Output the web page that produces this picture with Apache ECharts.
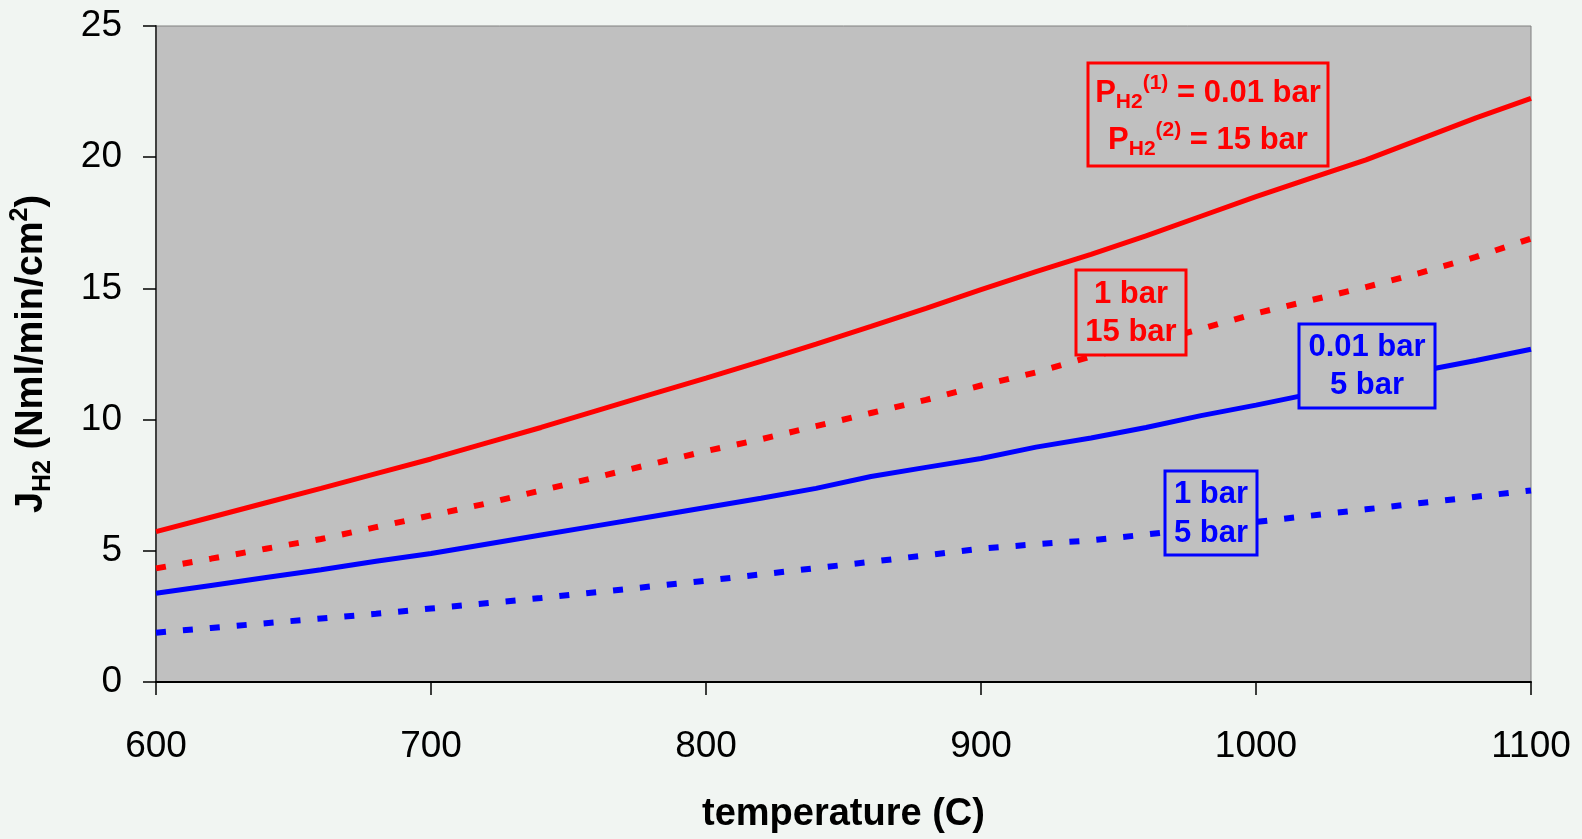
<!DOCTYPE html>
<html>
<head>
<meta charset="utf-8">
<script src="https://cdn.jsdelivr.net/npm/echarts@6/dist/echarts.min.js"></script>
<style>
  html, body { margin: 0; padding: 0; background: #f1f5f2; }
  #chart { width: 1582px; height: 839px; }
</style>
</head>
<body>
<div id="chart"></div>
<script>
// temperature (C), every 20 degrees
var temps = [600, 620, 640, 660, 680, 700, 720, 740, 760, 780, 800, 820, 840, 860, 880, 900, 920, 940, 960, 980, 1000, 1020, 1040, 1060, 1080, 1100];
// J_H2 (Nml/min/cm2)
var redSolid = [5.73, 6.28, 6.83, 7.38, 7.94, 8.50, 9.10, 9.70, 10.33, 10.96, 11.58, 12.22, 12.88, 13.55, 14.24, 14.95, 15.64, 16.30, 17.00, 17.75, 18.50, 19.20, 19.90, 20.70, 21.50, 22.24];
var redDotted = [4.33, 4.70, 5.08, 5.45, 5.90, 6.35, 6.80, 7.30, 7.80, 8.30, 8.80, 9.25, 9.75, 10.25, 10.75, 11.30, 11.80, 12.40, 12.90, 13.45, 14.05, 14.55, 15.05, 15.60, 16.20, 16.90];
var blueSolid = [3.38, 3.68, 3.98, 4.28, 4.60, 4.90, 5.25, 5.60, 5.95, 6.30, 6.65, 7.00, 7.38, 7.83, 8.18, 8.52, 8.95, 9.30, 9.70, 10.15, 10.55, 10.98, 11.40, 11.85, 12.25, 12.68];
var blueDotted = [1.88, 2.06, 2.24, 2.42, 2.60, 2.80, 3.00, 3.20, 3.42, 3.64, 3.86, 4.10, 4.34, 4.58, 4.83, 5.08, 5.25, 5.40, 5.62, 5.86, 6.10, 6.34, 6.58, 6.82, 7.06, 7.30];

var font = "'Liberation Sans', Arial, sans-serif";
var red = '#ff0000', blue = '#0000ff';

function pairs(ys) {
  return temps.map(function (t, i) { return [t, ys[i]]; });
}

function line(name, ys, color, dashed) {
  return {
    name: name, type: 'line', data: pairs(ys), showSymbol: false, symbol: 'none',
    lineStyle: { color: color, width: dashed ? 6 : 5, type: dashed ? [10, 17] : 'solid', cap: 'butt' },
    z: 3
  };
}

// annotation box: rect + two lines of text
function box(x, y, w, h, color, l1, l2, y1, y2, rich) {
  var els = [{
    type: 'rect', shape: { x: x, y: y, width: w, height: h },
    style: { fill: '#c0c0c0', stroke: color, lineWidth: 3 }, z: 100
  }];
  [[l1, y1], [l2, y2]].forEach(function (l) {
    els.push({
      type: 'text', x: x + w / 2, y: l[1], z: 101,
      style: {
        text: l[0], fill: color, fontSize: 31, fontWeight: 'bold', fontFamily: font,
        align: 'center', verticalAlign: 'middle', rich: rich || {}
      }
    });
  });
  return els;
}

var pRich = {
  b: { fontSize: 31, fontWeight: 'bold', fontFamily: font, fill: red, lineHeight: 40 },
  sub: { fontSize: 21, fontWeight: 'bold', fontFamily: font, fill: red, verticalAlign: 'bottom', lineHeight: 40, padding: [12, 0, 0, 0] },
  sup: { fontSize: 21, fontWeight: 'bold', fontFamily: font, fill: red, verticalAlign: 'top', lineHeight: 40, padding: [0, 0, 14, 0] }
};

var chart = echarts.init(document.getElementById('chart'), null, { renderer: 'canvas' });
chart.setOption({
  animation: false,
  backgroundColor: '#f1f5f2',
  grid: { left: 154, right: 51, top: 26, bottom: 157, show: true, backgroundColor: '#c0c0c0', borderColor: '#808080', borderWidth: 1 },
  xAxis: {
    type: 'value', min: 600, max: 1100, interval: 100,
    name: 'temperature (C)', nameLocation: 'middle', nameGap: 114,
    nameTextStyle: { color: '#000', fontSize: 38, fontWeight: 'bold', fontFamily: font },
    axisLine: { lineStyle: { color: '#000', width: 2 } },
    axisTick: { length: 13, lineStyle: { color: '#000', width: 1.5 } },
    axisLabel: { color: '#000', fontSize: 37, fontFamily: font, margin: 46, formatter: function (v) { return String(v); } },
    splitLine: { show: false }
  },
  yAxis: {
    type: 'value', min: 0, max: 25, interval: 5,
    name: '{b|J}{sub|H2}{b| (Nml/min/cm}{sup|2}{b|)}', nameLocation: 'middle', nameGap: 100, nameRotate: 90,
    nameTextStyle: {
      color: '#000', fontFamily: font,
      rich: {
        b: { fontSize: 38, fontWeight: 'bold', fontFamily: font, color: '#000', lineHeight: 48 },
        sub: { fontSize: 25, fontWeight: 'bold', fontFamily: font, color: '#000', verticalAlign: 'bottom', lineHeight: 48, padding: [15, 0, 0, 0] },
        sup: { fontSize: 25, fontWeight: 'bold', fontFamily: font, color: '#000', verticalAlign: 'top', lineHeight: 48, padding: [0, 0, 18, 0] }
      }
    },
    axisLine: { show: true, lineStyle: { color: '#404040', width: 2 } },
    axisTick: { show: true, length: 13, lineStyle: { color: '#000', width: 1.5 } },
    axisLabel: { color: '#000', fontSize: 37, fontFamily: font, margin: 34 },
    splitLine: { show: false }
  },
  series: [
    line('0.01 / 15 bar', redSolid, red, false),
    line('1 / 15 bar', redDotted, red, true),
    line('0.01 / 5 bar', blueSolid, blue, false),
    line('1 / 5 bar', blueDotted, blue, true)
  ],
  graphic: [].concat(
    box(1088, 63, 240, 103, red, '{b|P}{sub|H2}{sup|(1)}{b| = 0.01 bar}', '{b|P}{sub|H2}{sup|(2)}{b| = 15 bar}', 93, 140, pRich),
    box(1076, 270, 110, 85, red, '1 bar', '15 bar', 294, 332),
    box(1299, 324, 136, 84, blue, '0.01 bar', '5 bar', 347, 385),
    box(1165, 471, 92, 84, blue, '1 bar', '5 bar', 494, 533)
  )
});
window.addEventListener('resize', function () { chart.resize(); });
</script>
</body>
</html>
